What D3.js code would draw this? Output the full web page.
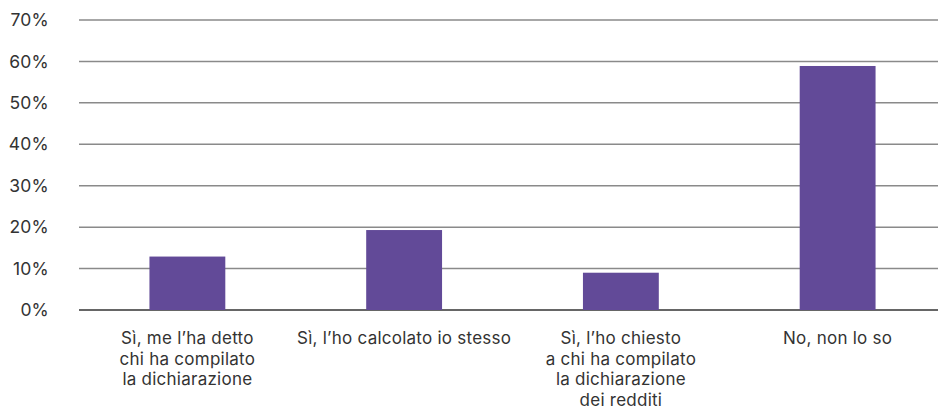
<!DOCTYPE html>
<html><head><meta charset="utf-8">
<script src="https://cdn.jsdelivr.net/npm/d3@7"></script>
<style>body{margin:0;background:#fff;} svg{display:block;font-family:Inter,"Noto Sans",sans-serif;}</style>
</head><body>
<svg id="c" width="938" height="409"></svg>
<script>
const categories = [
  ["Sì, me l’ha detto","chi ha compilato","la dichiarazione"],
  ["Sì, l’ho calcolato io stesso"],
  ["Sì, l’ho chiesto","a chi ha compilato","la dichiarazione","dei redditi"],
  ["No, non lo so"]
];
const values = [12.9, 19.3, 9.0, 58.9];
const yTicks = [0,10,20,30,40,50,60,70];

const svg = d3.select("#c");
const x = d3.scaleBand().domain(d3.range(categories.length)).range([79, 946]).paddingInner(0.65).paddingOuter(0.325);
const y = d3.scaleLinear().domain([0,70]).range([310, 20]);

// gridlines
svg.append("g").selectAll("line").data(yTicks).join("line")
  .attr("x1", 79).attr("x2", 938)
  .attr("y1", d => y(d)).attr("y2", d => y(d))
  .attr("stroke", d => d === 0 ? "#333" : "#8a8a8a").attr("stroke-width", 1.5);

// y labels
svg.append("g").selectAll("text").data(yTicks).join("text")
  .attr("x", 49).attr("y", d => y(d)).attr("dy", "0.35em")
  .attr("text-anchor", "end").attr("font-size", 17.5).attr("fill", "#333")
  .attr("letter-spacing", 0.2)
  .text(d => d + "%");

// bars
svg.append("g").selectAll("rect").data(values).join("rect")
  .attr("x", (d,i) => x(i)).attr("width", x.bandwidth())
  .attr("y", d => y(d)).attr("height", d => y(0) - y(d))
  .attr("fill", "#624a98");

// x labels
const lab = svg.append("g").selectAll("text").data(categories).join("text")
  .attr("x", (d,i) => x(i) + x.bandwidth()/2).attr("y", 344)
  .attr("text-anchor", "middle").attr("font-size", 17).attr("fill", "#333")
  .attr("letter-spacing", 0.25);
lab.selectAll("tspan").data(d => d).join("tspan")
  .attr("x", function(){ return this.parentNode.getAttribute("x"); })
  .attr("dy", (d,i) => i === 0 ? 0 : 20.6)
  .text(d => d);
</script>
</body></html>
